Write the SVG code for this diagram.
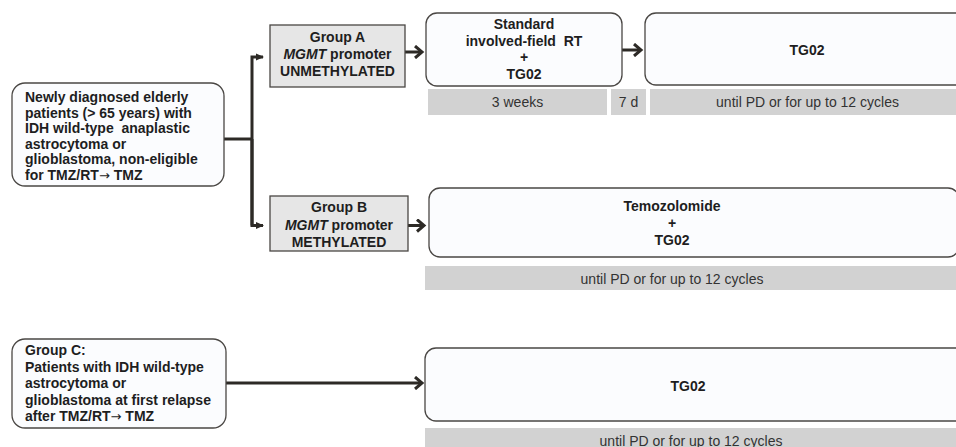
<svg xmlns="http://www.w3.org/2000/svg" width="956" height="447" viewBox="0 0 956 447">
<defs>
<style>
.box{fill:#fbfcfe;stroke:#4a4744;stroke-width:1.3}
.grp{fill:#e6e6e6;stroke:#4a4744;stroke-width:1.3}
.bar{fill:#d2d2d2}
.t{font-family:"Liberation Sans",Arial,sans-serif;font-size:14px;font-weight:bold;fill:#1e1e1e}
.c{text-anchor:middle}
.ar{font-family:"DejaVu Sans",sans-serif;font-weight:normal;font-size:13px}
.bt{font-family:"Liberation Sans",Arial,sans-serif;font-size:14px;fill:#333;text-anchor:middle}
.ln{fill:none;stroke:#2d2a26;stroke-width:3}
</style>
<marker id="chev" markerUnits="userSpaceOnUse" viewBox="0 0 12 14" markerWidth="12" markerHeight="14" refX="9" refY="7" orient="auto">
<path d="M2,1 L9,7 L2,13" fill="none" stroke="#2d2a26" stroke-width="3"/>
</marker>
<marker id="tri" markerUnits="userSpaceOnUse" viewBox="0 0 8 8" markerWidth="8" markerHeight="8" refX="7" refY="4" orient="auto">
<path d="M0,0.5 L8,4 L0,7.5 z" fill="#2d2a26"/>
</marker>
</defs>
<rect width="956" height="447" fill="#ffffff"/>

<g id="connectors">
<polyline class="ln" points="224,139 252,139"/>
<polyline class="ln" points="252,225.5 252,57 263,57" marker-end="url(#tri)"/>
<polyline class="ln" points="252,139 252,225.5 263,225.5" marker-end="url(#tri)"/>
<line class="ln" x1="405" y1="52" x2="422" y2="52" marker-end="url(#chev)"/>
<line class="ln" x1="622" y1="50" x2="641" y2="50" marker-end="url(#chev)"/>
<line class="ln" x1="408" y1="225.5" x2="424" y2="225.5" marker-end="url(#chev)"/>
<line class="ln" x1="226" y1="383" x2="422" y2="383" marker-end="url(#chev)"/>
</g>

<g id="node-eligible">
<rect class="box" x="12" y="83" width="212" height="103" rx="13"/>
<text class="t" x="25" y="102">Newly diagnosed elderly</text>
<text class="t" x="25" y="117.5">patients (&gt; 65 years) with</text>
<text class="t" x="25" y="133">IDH wild-type&#160; anaplastic</text>
<text class="t" x="25" y="148.5">astrocytoma or</text>
<text class="t" x="25" y="164">glioblastoma, non-eligible</text>
<text class="t" x="25" y="179.5">for TMZ/RT<tspan class="ar">→</tspan> TMZ</text>
</g>

<g id="node-groupA">
<rect class="grp" x="270" y="25" width="135" height="62"/>
<text class="t c" x="337.5" y="42">Group A</text>
<text class="t c" x="337.5" y="59"><tspan font-style="italic">MGMT</tspan> promoter</text>
<text class="t c" x="337.5" y="76">UNMETHYLATED</text>
</g>

<g id="node-standard">
<rect class="box" x="426" y="13" width="196" height="73" rx="11"/>
<text class="t c" x="524" y="28.5">Standard</text>
<text class="t c" x="524" y="45.5">involved-field&#160; RT</text>
<text class="t c" x="524" y="62">+</text>
<text class="t c" x="524" y="79">TG02</text>
</g>

<g id="node-tg02-a">
<rect class="box" x="645" y="13" width="330" height="72" rx="11"/>
<text class="t c" x="807" y="55">TG02</text>
</g>

<g id="bars-a">
<rect class="bar" x="428" y="89" width="179" height="26"/>
<text class="bt" x="517.5" y="107">3 weeks</text>
<rect class="bar" x="611" y="89" width="35" height="26"/>
<text class="bt" x="628.5" y="107">7 d</text>
<rect class="bar" x="650" y="89" width="320" height="26"/>
<text class="bt" x="807.5" y="107">until PD or for up to 12 cycles</text>
</g>

<g id="node-groupB">
<rect class="grp" x="270" y="196" width="138" height="55"/>
<text class="t c" x="339" y="212">Group B</text>
<text class="t c" x="339" y="229.5"><tspan font-style="italic">MGMT</tspan> promoter</text>
<text class="t c" x="339" y="246.5">METHYLATED</text>
</g>

<g id="node-temozolomide">
<rect class="box" x="429" y="188" width="530" height="69" rx="11"/>
<text class="t c" x="672" y="211">Temozolomide</text>
<text class="t c" x="672" y="228">+</text>
<text class="t c" x="672" y="245">TG02</text>
</g>

<g id="bar-b">
<rect class="bar" x="425" y="266" width="540" height="24"/>
<text class="bt" x="672" y="283.5">until PD or for up to 12 cycles</text>
</g>

<g id="node-groupC">
<rect class="box" x="12" y="339" width="214" height="89" rx="13"/>
<text class="t" x="25" y="355">Group C:</text>
<text class="t" x="25" y="371.5">Patients with IDH wild-type</text>
<text class="t" x="25" y="388">astrocytoma or</text>
<text class="t" x="25" y="404.5">glioblastoma at first relapse</text>
<text class="t" x="25" y="421">after TMZ/RT<tspan class="ar">→</tspan> TMZ</text>
</g>

<g id="node-tg02-c">
<rect class="box" x="425" y="348" width="545" height="73" rx="11"/>
<text class="t c" x="688" y="391">TG02</text>
</g>

<g id="bar-c">
<rect class="bar" x="425" y="428" width="545" height="25"/>
<text class="bt" x="691" y="446">until PD or for up to 12 cycles</text>
</g>
</svg>
